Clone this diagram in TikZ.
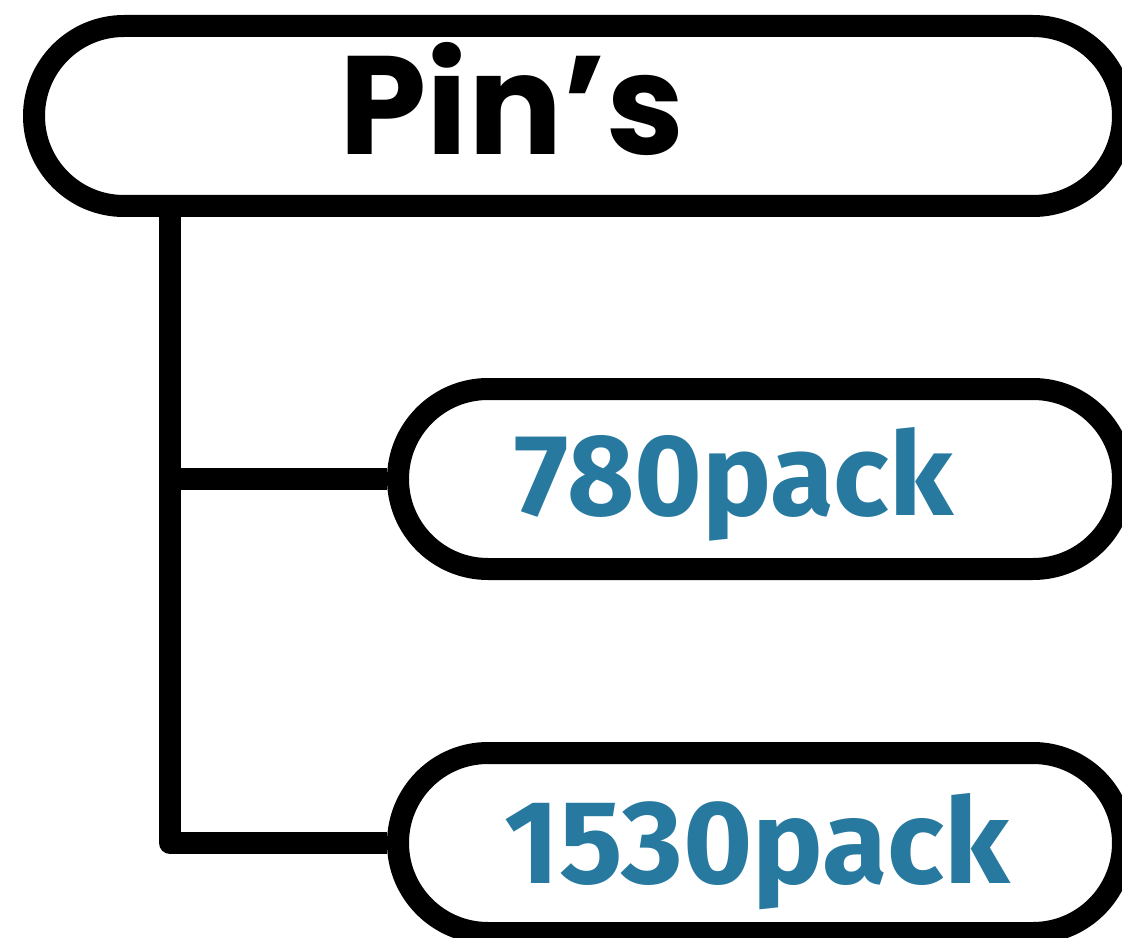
\documentclass[tikz,border=0pt]{standalone}
\usepackage{fontspec}
\setmainfont{Poppins}
\newfontfamily\labelfont{Fira Sans}
\definecolor{packteal}{RGB}{39,121,159}
\begin{document}
\begin{tikzpicture}[x=0.75pt,y=-0.75pt,
  pill/.style={draw=black,line width=16.5pt,rounded corners=67.5pt,minimum height=135pt,inner sep=0pt},
  link/.style={draw=black,line width=16.5pt,line join=round},
  title/.style={anchor=base,inner sep=0pt,font=\fontsize{105}{110}\selectfont\bfseries},
  pack/.style={anchor=base,inner sep=0pt,text=packteal,font=\labelfont\fontsize{87}{90}\selectfont\bfseries}]
\useasboundingbox (0,0) rectangle (1122,938);
\node[pill,minimum width=816.75pt] (box1) at (578.5,116) {};
\node[pill,minimum width=543.75pt] (box2) at (760.5,479) {};
\node[pill,minimum width=543.75pt] (box3) at (760.5,843) {};
\node[title] (t1) at (512,155) {Pin’s};
\node[pack] (t2) at (734,515) {780pack};
\node[pack,font=\labelfont\fontsize{89}{92}\selectfont\bfseries] (t3) at (757,883) {1530pack};
\coordinate (trunk) at (170,206);
\draw[link] (trunk) |- (box3.west);
\draw[link] (trunk |- box2.west) -- (box2.west);
\end{tikzpicture}
\end{document}
